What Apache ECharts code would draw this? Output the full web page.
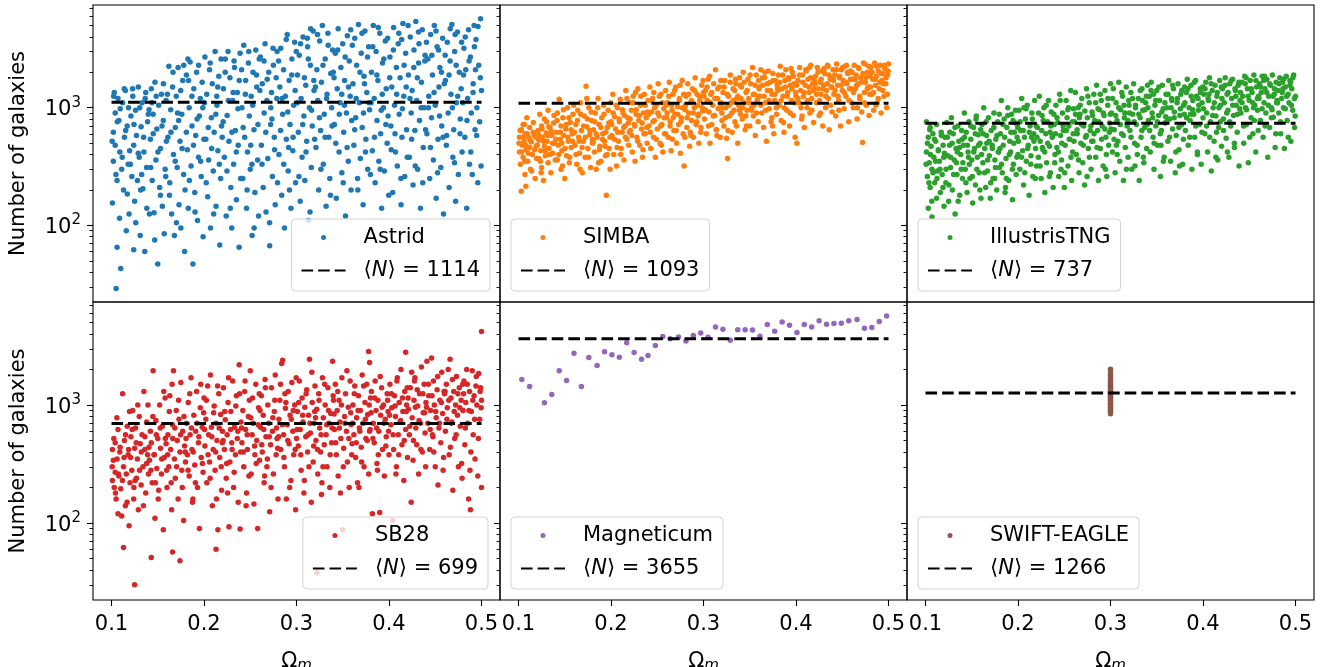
<!DOCTYPE html>
<html><head><meta charset="utf-8">
<script src="https://cdn.jsdelivr.net/npm/echarts@6/dist/echarts.min.js"></script>
<style>html,body{margin:0;padding:0;background:#fff}#c{width:1326px;height:667px}</style>
</head><body><div id="c"></div>
<script>
// ---------- data ----------
const simNames = ['Astrid','SIMBA','IllustrisTNG','SB28','Magneticum','SWIFT-EAGLE'];
const meanN = [1114,1093,737,699,3655,1266];
const xTicks = [0.1,0.2,0.3,0.4,0.5];
const yMajor = [100,1000];
const yMinor = [30,40,50,60,70,80,90,200,300,400,500,600,700,800,900,2000,3000,4000,5000,6000,7000];

const astrid = [[.101,155],[.102,350],[.102,620],[.103,1350],[.104,480],[.104,900],[.105,29],[.106,65],[.106,240],[.107,1200],[.108,780],[.109,420],[.110,43],[.111,300],[.112,1100],[.113,200],[.114,560],[.115,1400],[.116,90],[.117,700],[.118,330],[.119,125],
[.121,850],[.122,260],[.123,1250],[.124,62],[.124,480],[.125,160],[.126,950],[.127,580],[.128,240],[.129,1500],[.130,380],[.131,82],[.132,690],[.133,1100],[.134,205],[.135,420],[.136,60],[.137,1350],[.138,310],[.139,760],
[.141,125],[.142,540],[.143,1450],[.144,240],[.145,880],[.146,128],[.147,1650],[.148,360],[.149,660],[.150,47],[.151,1050],[.152,210],[.153,450],[.154,1300],[.155,145],[.156,780],[.157,85],[.158,300],[.159,1150],
[.161,560],[.162,2250],[.163,230],[.164,960],[.165,125],[.166,1500],[.167,400],[.168,82],[.169,680],[.170,1250],[.171,310],[.172,2200],[.173,150],[.174,520],[.175,95],[.176,880],[.177,1700],[.178,270],[.179,60],
[.181,1900],[.182,440],[.183,140],[.184,1000],[.185,2450],[.186,320],[.187,700],[.188,47],[.189,1450],[.190,190],[.191,580],[.192,2000],[.193,110],[.194,380],[.195,850],[.196,1200],[.197,260],[.198,1650],[.199,80],
[.201,2700],[.202,540],[.203,1300],[.204,175],[.205,360],[.206,2100],[.207,95],[.208,820],[.209,1600],[.210,290],[.211,620],[.212,3000],[.213,145],[.214,1050],[.215,430],[.216,1850],[.217,68],[.218,250],[.219,700],
[.221,1450],[.222,380],[.223,2600],[.224,120],[.225,860],[.226,3000],[.227,520],[.228,1800],[.229,210],[.230,95],[.231,1150],[.232,330],[.233,2200],[.234,640],[.235,165],[.236,1350],[.237,480],[.238,65],[.239,2900],
[.241,1000],[.242,250],[.243,3400],[.244,560],[.245,1700],[.246,140],[.247,420],[.248,2400],[.249,850],[.250,300],[.251,1250],[.252,82],[.253,2000],[.254,650],[.255,190],[.256,3100],[.257,1500],[.258,360],[.259,120],
[.261,2700],[.262,480],[.263,1600],[.264,210],[.265,900],[.266,3500],[.267,130],[.268,1150],[.269,370],[.270,2000],[.271,67],[.272,720],[.273,1350],[.274,260],[.275,2300],[.276,560],[.277,150],[.278,1800],[.279,3000],
[.281,400],[.282,1500],[.283,3200],[.284,180],[.285,880],[.286,2100],[.287,95],[.288,1250],[.289,540],[.290,4200],[.291,290],[.292,1700],[.293,720],[.294,140],[.295,2600],[.296,430],[.297,1050],[.298,3600],[.299,230],
[.301,1900],[.302,620],[.303,2800],[.304,160],[.305,1200],[.306,380],[.307,4000],[.308,850],[.309,240],[.310,1550],[.311,520],[.312,3300],[.313,110],[.314,1000],[.315,2300],[.316,310],[.317,700],[.318,4500],[.319,1400],
[.321,460],[.322,2100],[.323,1150],[.324,200],[.325,3700],[.326,640],[.327,1650],[.328,5000],[.329,330],[.330,880],[.331,2600],[.332,145],[.333,1300],[.334,4300],[.335,560],[.336,250],[.337,1950],[.338,1000],[.339,3100],
[.341,720],[.342,2900],[.343,170],[.344,1450],[.345,4700],[.346,420],[.347,1100],[.348,2200],[.349,280],[.350,3500],[.351,620],[.352,1700],[.353,120],[.354,900],[.355,4100],[.356,350],[.357,2500],[.358,1250],[.359,200],
[.361,1600],[.362,480],[.363,3900],[.364,820],[.365,2300],[.366,250],[.367,5100],[.368,1100],[.369,370],[.370,2900],[.371,680],[.372,150],[.373,1850],[.374,4500],[.375,540],[.376,1350],[.377,300],[.378,3300],[.379,960],
[.381,2000],[.382,430],[.383,5000],[.384,1200],[.385,230],[.386,3000],[.387,780],[.388,1700],[.389,350],[.390,4300],[.391,600],[.392,140],[.393,2400],[.394,1000],[.395,290],[.396,3700],[.397,1450],[.398,500],[.399,850],
[.401,2700],[.402,700],[.403,1500],[.404,190],[.405,4800],[.406,1050],[.407,420],[.408,2200],[.409,320],[.410,3500],[.411,880],[.412,1800],[.413,150],[.414,560],[.415,5200],[.416,1250],[.417,260],[.418,2900],[.419,650],
[.421,1900],[.422,380],[.423,4000],[.424,900],[.425,1400],[.426,220],[.427,3100],[.428,640],[.429,5400],[.430,1150],[.431,300],[.432,2400],[.433,780],[.434,140],[.435,1650],[.436,4600],[.437,460],[.438,1000],[.439,2800],
[.441,600],[.442,2600],[.443,1250],[.444,250],[.445,4200],[.446,820],[.447,1900],[.448,360],[.449,5000],[.450,1050],[.451,170],[.452,3300],[.453,540],[.454,1500],[.455,2200],[.456,310],[.457,700],[.458,3900],[.459,125],
[.461,1700],[.462,480],[.463,3600],[.464,900],[.465,210],[.466,2500],[.467,1300],[.468,5100],[.469,380],[.470,650],[.471,3000],[.472,160],[.473,1100],[.474,4400],[.475,270],[.476,2000],[.477,800],[.478,1450],[.479,420],
[.481,3200],[.482,560],[.483,2100],[.484,140],[.485,1200],[.486,4600],[.487,330],[.488,2700],[.489,900],[.490,270],[.491,1600],[.492,5000],[.493,650],[.494,3800],[.495,1000],[.496,230],[.497,2300],[.498,760],[.499,5700],[.500,1400]];
const astridMore = [[.1007,520],[.1023,1250],[.1048,270],[.1063,760],[.1087,115],[.1094,980],[.1116,380],[.1138,1450],[.1153,640],[.1171,185],[.1196,430],[.1184,1000],
[.1204,330],[.1228,1450],[.1243,720],[.1262,105],[.1289,410],[.1305,1000],[.1326,270],[.1347,560],[.1364,1200],[.1382,140],[.1398,880],[.1315,200],
[.1406,960],[.1424,310],[.1451,600],[.1467,75],[.1483,1250],[.1502,420],[.1529,180],[.1546,700],[.1561,1600],[.1586,260],[.1593,520],[.1437,1100],
[.1604,1300],[.1627,180],[.1643,620],[.1665,2000],[.1689,350],[.1702,105],[.1726,780],[.1748,1400],[.1763,450],[.1781,2300],[.1795,200],[.1714,900],
[.1809,620],[.1826,2600],[.1842,240],[.1869,1250],[.1886,480],[.1903,130],[.1925,800],[.1941,2300],[.1964,350],[.1987,1000],[.1999,540],[.1833,1700],
[.2005,1100],[.2024,230],[.2046,680],[.2067,2400],[.2083,450],[.2105,125],[.2128,880],[.2149,1500],[.2166,330],[.2184,2600],[.2197,560],[.2138,1250],
[.2207,760],[.2229,2000],[.2248,290],[.2263,1150],[.2284,140],[.2302,620],[.2325,2500],[.2349,420],[.2367,980],[.2381,1700],[.2396,250],[.2315,1350],
[.2406,2100],[.2423,680],[.2447,1300],[.2466,200],[.2484,3000],[.2505,480],[.2527,1050],[.2542,95],[.2568,1900],[.2583,720],[.2597,2600],[.2518,330],
[.2604,1400],[.2627,330],[.2649,2500],[.2668,620],[.2683,1750],[.2709,105],[.2722,1000],[.2746,3200],[.2763,440],[.2787,1200],[.2795,230],[.2734,800],
[.2806,2500],[.2828,640],[.2844,1200],[.2862,330],[.2889,3800],[.2906,920],[.2924,200],[.2948,1900],[.2963,560],[.2985,1400],[.2997,3000],[.2915,460],
[.3008,1100],[.3026,260],[.3044,3500],[.3067,720],[.3085,1800],[.3103,420],[.3128,2600],[.3146,130],[.3163,950],[.3187,1700],[.3196,540],[.3117,3900],
[.3205,1500],[.3227,4200],[.3248,820],[.3264,300],[.3286,2300],[.3309,560],[.3325,1200],[.3343,3400],[.3367,180],[.3384,700],[.3398,2000],[.3152,4700],
[.3406,1800],[.3425,500],[.3446,3100],[.3463,880],[.3489,1300],[.3505,230],[.3526,2700],[.3547,460],[.3562,1500],[.3586,4600],[.3597,780],[.3518,1050],
[.3604,3400],[.3629,650],[.3645,1200],[.3663,200],[.3686,2000],[.3708,4300],[.3724,900],[.3746,420],[.3768,2700],[.3783,1100],[.3799,270],[.3735,1600],
[.3806,1100],[.3825,3300],[.3843,560],[.3869,1900],[.3884,4800],[.3905,300],[.3927,1300],[.3944,2600],[.3966,720],[.3985,3900],[.3997,180],[.3916,950],
[.4008,1800],[.4024,440],[.4047,3100],[.4065,600],[.4083,1300],[.4106,4300],[.4129,250],[.4145,980],[.4163,2300],[.4186,1500],[.4198,380],[.4137,3800],
[.4206,5000],[.4227,1200],[.4245,540],[.4268,2200],[.4284,320],[.4306,1800],[.4324,3500],[.4347,1000],[.4365,230],[.4387,2500],[.4396,650],[.4318,4400],
[.4405,3600],[.4426,1000],[.4448,460],[.4463,2800],[.4487,1350],[.4508,4500],[.4525,280],[.4546,850],[.4567,2000],[.4584,560],[.4598,1600],[.4536,3100],
[.4607,2800],[.4624,580],[.4649,1900],[.4662,4700],[.4685,1000],[.4708,340],[.4726,2300],[.4743,1250],[.4768,600],[.4785,3600],[.4797,1100],[.4715,4200],
[.4806,1900],[.4824,4000],[.4843,780],[.4866,2500],[.4884,420],[.4909,1350],[.4923,3300],[.4948,580],[.4962,4900],[.4987,1800],[.4995,320],[.4935,2100]];

const simba = [[.101,560],[.101,420],[.102,330],[.103,195],[.103,650],[.104,480],[.105,380],[.105,720],[.106,520],[.107,270],[.107,600],[.108,215],[.108,440],[.109,820],[.110,350],[.111,560],[.112,460],[.112,680],[.113,300],[.114,510],[.115,400],[.116,750],[.117,580],[.118,250],[.119,470],
[.121,640],[.122,370],[.122,530],[.123,880],[.124,430],[.125,310],[.125,700],[.126,560],[.127,240],[.128,470],[.128,800],[.129,390],[.130,610],[.131,520],[.132,340],[.132,950],[.133,450],[.134,680],[.135,280],[.136,580],[.137,410],[.138,740],[.139,500],
[.141,620],[.142,360],[.142,900],[.143,480],[.144,1180],[.145,540],[.146,300],[.146,700],[.147,430],[.148,820],[.149,580],[.150,250],[.151,660],[.152,390],[.153,1000],[.154,520],[.155,340],[.156,750],[.157,460],[.158,600],[.159,880],
[.161,480],[.162,720],[.163,330],[.164,950],[.165,560],[.166,410],[.167,1100],[.168,640],[.169,280],[.170,520],[.171,850],[.172,380],[.173,1520],[.174,690],[.175,450],[.176,1000],[.177,590],[.178,310],[.179,780],[.180,500],
[.181,650],[.182,420],[.183,900],[.184,300],[.185,560],[.186,1200],[.187,720],[.188,470],[.189,350],[.190,820],[.191,600],[.192,1050],[.193,520],[.194,390],[.195,180],[.196,680],[.197,950],[.198,450],[.199,300],[.200,760],
[.201,580],[.202,1300],[.203,400],[.204,840],[.205,660],[.206,320],[.207,1000],[.208,520],[.209,760],[.210,1180],[.211,450],[.212,620],[.213,900],[.214,360],[.215,700],[.216,1400],[.217,540],[.218,820],[.219,480],[.220,1100],
[.221,640],[.222,950],[.223,420],[.224,1250],[.225,720],[.226,350],[.227,880],[.228,560],[.229,1450],[.230,780],[.231,480],[.232,1050],[.233,660],[.234,380],[.235,900],[.236,1300],[.237,600],[.238,820],[.239,500],[.240,1150],
[.241,700],[.242,1500],[.243,450],[.244,920],[.245,1200],[.246,560],[.247,780],[.248,380],[.249,1050],[.250,660],[.251,1600],[.252,850],[.253,500],[.254,1300],[.255,720],[.256,420],[.257,980],[.258,600],[.259,1400],[.260,820],
[.261,1100],[.262,560],[.263,1650],[.264,760],[.265,430],[.266,950],[.267,1300],[.268,640],[.269,880],[.270,1500],[.271,500],[.272,1020],[.273,720],[.274,1200],[.275,410],[.276,820],[.277,1700],[.278,600],[.279,320],[.280,960],
[.281,1250],[.282,680],[.283,1600],[.284,900],[.285,470],[.286,1100],[.287,780],[.288,1450],[.289,560],[.290,1000],[.291,1800],[.292,720],[.293,1300],[.294,850],[.295,500],[.296,1150],[.297,620],[.298,1550],[.299,940],[.300,1350],
[.301,800],[.302,1400],[.303,600],[.304,1150],[.305,1750],[.306,920],[.307,500],[.308,1300],[.309,720],[.310,1050],[.311,1600],[.312,860],[.313,2100],[.314,650],[.315,1200],[.316,980],[.317,1500],[.318,560],[.319,1100],[.320,780],
[.321,1350],[.322,700],[.323,1700],[.324,1000],[.325,550],[.326,370],[.327,1250],[.328,850],[.329,1900],[.330,1100],[.331,620],[.332,1450],[.333,950],[.334,760],[.335,1600],[.336,1200],[.337,500],[.338,1050],[.339,1800],[.340,880],
[.341,1500],[.342,800],[.343,2000],[.344,1100],[.345,650],[.346,1350],[.347,950],[.348,1750],[.349,1200],[.350,700],[.351,1600],[.352,1000],[.353,2200],[.354,850],[.355,1300],[.356,580],[.357,1900],[.358,1150],[.359,760],[.360,1450],
[.361,1250],[.362,2100],[.363,900],[.364,1550],[.365,680],[.366,1800],[.367,1100],[.368,520],[.369,1400],[.370,2050],[.371,980],[.372,1650],[.373,760],[.374,1300],[.375,1950],[.376,600],[.377,1150],[.378,1700],[.379,880],[.380,1450],
[.381,1900],[.382,1050],[.383,2250],[.384,780],[.385,1450],[.386,1250],[.387,620],[.388,1700],[.389,2100],[.390,950],[.391,1350],[.392,1800],[.393,700],[.394,1550],[.395,1150],[.396,2000],[.397,860],[.398,1600],[.399,560],[.400,1250],
[.401,500],[.402,1700],[.403,1100],[.404,2200],[.405,1400],[.406,800],[.407,1900],[.408,1250],[.409,680],[.410,1550],[.411,2050],[.412,1000],[.413,1750],[.414,1350],[.415,900],[.416,2300],[.417,1200],[.418,1600],[.419,750],[.420,1450],
[.421,1850],[.422,1100],[.423,2200],[.424,1450],[.425,860],[.426,1650],[.427,1300],[.428,2050],[.429,700],[.430,1550],[.431,1950],[.432,1000],[.433,1400],[.434,2300],[.435,1200],[.436,650],[.437,1750],[.438,1500],[.439,920],[.440,2100],
[.441,1300],[.442,1900],[.443,850],[.444,2350],[.445,1550],[.446,1150],[.447,1800],[.448,700],[.449,2100],[.450,1400],[.451,1700],[.452,980],[.453,2250],[.454,1250],[.455,1600],[.456,1950],[.457,760],[.458,1450],[.459,2050],[.460,1100],
[.461,1750],[.462,1000],[.463,2300],[.464,1450],[.465,1900],[.466,800],[.467,1600],[.468,2150],[.469,1200],[.470,1800],[.471,920],[.472,505],[.473,2400],[.474,1350],[.475,1650],[.476,1050],[.477,2000],[.478,1500],[.479,860],[.480,1850],
[.481,2200],[.482,1300],[.483,1750],[.484,950],[.485,2400],[.486,1550],[.487,1850],[.488,1100],[.489,2050],[.490,1450],[.491,2300],[.492,900],[.493,1700],[.494,1950],[.495,1250],[.496,2150],[.497,1600],[.498,1000],[.499,1900],[.500,2350]];
const simbaMore = [[.1006,500],[.1018,640],[.1034,420],[.1052,560],[.1068,350],[.1079,480],[.1093,600],[.1106,410],[.1124,530],[.1142,290],[.1158,620],[.1173,440],[.1188,560],[.1196,370],[.1064,720],
[.1203,480],[.1219,590],[.1236,350],[.1254,660],[.1271,520],[.1287,430],[.1303,760],[.1318,580],[.1336,400],[.1353,630],[.1369,500],[.1384,860],[.1397,360],[.1245,280],[.1328,690],
[.1404,540],[.1417,780],[.1435,400],[.1452,620],[.1468,500],[.1486,960],[.1503,450],[.1517,720],[.1535,560],[.1553,380],[.1568,650],[.1584,520],[.1597,1050],[.1476,320],[.1544,820],
[.1605,620],[.1622,400],[.1638,780],[.1655,520],[.1672,880],[.1688,460],[.1704,700],[.1723,560],[.1738,1200],[.1756,380],[.1772,640],[.1787,920],[.1798,540],[.1665,300],[.1745,800],
[.1806,520],[.1823,760],[.1839,600],[.1857,1000],[.1874,440],[.1891,680],[.1908,540],[.1925,880],[.1943,620],[.1958,400],[.1976,740],[.1989,560],[.1997,1100],[.1866,340],[.1935,470],
[.2007,720],[.2023,900],[.2038,540],[.2056,1050],[.2073,620],[.2088,800],[.2105,400],[.2123,960],[.2138,680],[.2156,560],[.2172,1200],[.2187,740],[.2198,620],[.2066,460],[.2145,860],
[.2206,800],[.2224,580],[.2238,1100],[.2257,700],[.2273,960],[.2289,520],[.2306,860],[.2322,1250],[.2337,740],[.2356,600],[.2371,1050],[.2388,680],[.2396,920],[.2265,1350],[.2346,440],
[.2405,880],[.2423,620],[.2437,1150],[.2454,760],[.2472,1000],[.2489,540],[.2506,900],[.2523,1250],[.2538,700],[.2556,1100],[.2574,820],[.2588,600],[.2597,1050],[.2463,1350],[.2545,480],
[.2607,900],[.2624,1250],[.2638,700],[.2656,1050],[.2673,820],[.2687,1400],[.2705,640],[.2722,880],[.2739,1150],[.2757,760],[.2772,1000],[.2786,1300],[.2798,560],[.2665,540],[.2746,1550],
[.2806,1050],[.2823,820],[.2838,1300],[.2856,620],[.2872,1150],[.2889,900],[.2905,1400],[.2924,760],[.2938,1050],[.2955,1250],[.2973,680],[.2987,1000],[.2996,1700],[.2864,580],[.2946,880],
[.3006,1250],[.3022,950],[.3039,1500],[.3055,700],[.3072,1100],[.3089,1350],[.3105,850],[.3123,1200],[.3138,650],[.3154,1450],[.3173,1000],[.3187,1700],[.3198,900],[.3066,1850],[.3145,580],
[.3205,1000],[.3222,1500],[.3238,820],[.3255,1300],[.3274,1050],[.3289,1650],[.3306,900],[.3323,1150],[.3337,1400],[.3356,700],[.3371,1250],[.3388,950],[.3397,1550],[.3265,640],[.3346,1750],
[.3406,1200],[.3423,1000],[.3439,1650],[.3457,850],[.3472,1400],[.3488,1100],[.3504,1900],[.3522,950],[.3539,1300],[.3557,1550],[.3572,900],[.3588,1250],[.3596,1700],[.3465,700],[.3546,1050],
[.3605,1500],[.3621,1050],[.3638,1800],[.3655,1250],[.3672,950],[.3689,1600],[.3706,1150],[.3723,1400],[.3739,820],[.3754,1700],[.3771,1300],[.3787,1000],[.3797,1550],[.3664,2000],[.3746,700],
[.3806,1400],[.3823,1650],[.3839,1150],[.3856,1900],[.3873,1000],[.3888,1500],[.3905,1250],[.3922,1750],[.3938,900],[.3955,1450],[.3972,1850],[.3987,1100],[.3996,1350],[.3865,750],[.3946,2150],
[.4005,1550],[.4022,1200],[.4038,1900],[.4055,1000],[.4073,1650],[.4088,1350],[.4106,2100],[.4123,1150],[.4139,1500],[.4156,1800],[.4172,950],[.4188,1400],[.4197,1700],[.4066,850],[.4145,2200],
[.4206,1600],[.4223,1300],[.4238,2000],[.4255,1150],[.4272,1750],[.4289,1450],[.4305,2150],[.4322,1250],[.4338,1600],[.4356,1900],[.4373,1050],[.4387,1500],[.4398,1800],[.4265,900],[.4346,2250],
[.4405,1700],[.4422,1400],[.4439,2100],[.4455,1250],[.4471,1850],[.4489,1550],[.4505,2200],[.4523,1350],[.4538,1650],[.4555,2000],[.4572,1150],[.4588,1750],[.4597,1450],[.4464,950],[.4546,2300],
[.4606,2000],[.4622,1350],[.4638,1750],[.4656,1550],[.4673,2200],[.4689,1250],[.4706,1650],[.4723,1950],[.4739,1100],[.4755,1800],[.4772,1450],[.4788,2250],[.4797,1300],[.4665,1000],[.4746,2350],
[.4805,1500],[.4823,2000],[.4838,1350],[.4856,1750],[.4872,2250],[.4889,1200],[.4906,1650],[.4922,1950],[.4939,1400],[.4956,2300],[.4973,1800],[.4988,1300],[.4996,2050],[.4865,1050],[.4946,1600]];

const tng = [[.101,760],[.101,420],[.102,260],[.103,140],[.103,560],[.104,340],[.105,680],[.105,210],[.106,470],[.107,118],[.107,300],[.108,600],[.109,380],[.110,230],[.111,520],[.112,170],[.112,720],[.113,290],[.114,440],[.115,350],[.116,190],[.117,620],[.118,270],[.119,480],[.120,145],
[.121,560],[.122,230],[.123,750],[.124,390],[.125,160],[.126,480],[.127,310],[.128,820],[.129,200],[.130,600],[.131,360],[.132,125],[.133,450],[.134,270],[.135,700],[.136,520],[.137,180],[.138,400],[.139,640],[.140,250],
[.141,480],[.142,900],[.143,300],[.144,620],[.145,190],[.146,420],[.147,760],[.148,250],[.149,540],[.150,360],[.151,155],[.152,680],[.153,450],[.154,220],[.155,850],[.156,380],[.157,590],[.158,280],[.159,500],[.160,170],
[.161,720],[.162,340],[.163,1000],[.164,450],[.165,210],[.166,580],[.167,290],[.168,820],[.169,390],[.170,170],[.171,640],[.172,480],[.173,250],[.174,900],[.175,360],[.176,540],[.177,200],[.178,760],[.179,420],[.180,310],
[.181,600],[.182,1150],[.183,280],[.184,480],[.185,800],[.186,190],[.187,370],[.188,680],[.189,1000],[.190,240],[.191,520],[.192,420],[.193,880],[.194,165],[.195,330],[.196,620],[.197,740],[.198,270],[.199,560],[.200,400],
[.201,950],[.202,300],[.203,640],[.204,1200],[.205,430],[.206,220],[.207,560],[.208,800],[.209,350],[.210,1050],[.211,480],[.212,180],[.213,700],[.214,390],[.215,900],[.216,260],[.217,600],[.218,1150],[.219,450],[.220,320],
[.221,680],[.222,380],[.223,1250],[.224,520],[.225,250],[.226,860],[.227,440],[.228,1000],[.229,190],[.230,600],[.231,340],[.232,760],[.233,1150],[.234,470],[.235,280],[.236,920],[.237,560],[.238,210],[.239,720],[.240,400],
[.241,1050],[.242,460],[.243,750],[.244,260],[.245,1300],[.246,580],[.247,360],[.248,900],[.249,640],[.250,210],[.251,480],[.252,1150],[.253,820],[.254,320],[.255,700],[.256,540],[.257,1400],[.258,240],[.259,420],[.260,980],
[.261,760],[.262,1350],[.263,400],[.264,600],[.265,1000],[.266,280],[.267,880],[.268,500],[.269,1200],[.270,340],[.271,700],[.272,220],[.273,560],[.274,1450],[.275,820],[.276,450],[.277,1100],[.278,640],[.279,300],[.280,920],
[.281,520],[.282,1300],[.283,780],[.284,380],[.285,1550],[.286,640],[.287,240],[.288,960],[.289,450],[.290,1150],[.291,700],[.292,320],[.293,860],[.294,1400],[.295,560],[.296,260],[.297,1050],[.298,480],[.299,740],[.300,1600],
[.301,900],[.302,420],[.303,1450],[.304,650],[.305,280],[.306,1100],[.307,780],[.308,520],[.309,1650],[.310,350],[.311,960],[.312,600],[.313,1250],[.314,240],[.315,820],[.316,460],[.317,1500],[.318,700],[.319,380],[.320,1050],
[.321,640],[.322,1350],[.323,300],[.324,880],[.325,1600],[.326,500],[.327,1000],[.328,720],[.329,400],[.330,1200],[.331,240],[.332,820],[.333,560],[.334,1450],[.335,950],[.336,340],[.337,680],[.338,1100],[.339,450],[.340,1550],
[.341,780],[.342,1250],[.343,420],[.344,1650],[.345,900],[.346,560],[.347,300],[.348,1050],[.349,700],[.350,1400],[.351,480],[.352,860],[.353,1150],[.354,260],[.355,640],[.356,1550],[.357,980],[.358,380],[.359,740],[.360,1300],
[.361,1000],[.362,520],[.363,1700],[.364,800],[.365,350],[.366,1200],[.367,660],[.368,1450],[.369,920],[.370,280],[.371,580],[.372,1100],[.373,1600],[.374,440],[.375,860],[.376,1300],[.377,720],[.378,330],[.379,1050],[.380,1500],
[.381,640],[.382,1350],[.383,1750],[.384,480],[.385,1000],[.386,780],[.387,1550],[.388,300],[.389,1150],[.390,880],[.391,560],[.392,1700],[.393,1250],[.394,400],[.395,950],[.396,720],[.397,1450],[.398,330],[.399,1100],[.400,820],
[.401,1300],[.402,600],[.403,1650],[.404,900],[.405,420],[.406,1150],[.407,1800],[.408,760],[.409,290],[.410,1400],[.411,1000],[.412,520],[.413,1550],[.414,850],[.415,1250],[.416,360],[.417,680],[.418,1700],[.419,1050],[.420,470],
[.421,1450],[.422,800],[.423,1100],[.424,1800],[.425,550],[.426,1300],[.427,950],[.428,380],[.429,1600],[.430,700],[.431,1200],[.432,1750],[.433,860],[.434,460],[.435,1400],[.436,1050],[.437,620],[.438,1550],[.439,320],[.440,1150],
[.441,900],[.442,1650],[.443,1250],[.444,500],[.445,1850],[.446,1000],[.447,720],[.448,1450],[.449,340],[.450,1150],[.451,1700],[.452,820],[.453,1350],[.454,600],[.455,1900],[.456,1050],[.457,420],[.458,1500],[.459,950],[.460,1250],
[.461,1600],[.462,780],[.463,1350],[.464,1850],[.465,560],[.466,1100],[.467,1450],[.468,900],[.469,1750],[.470,380],[.471,1250],[.472,680],[.473,1550],[.474,1000],[.475,1900],[.476,830],[.477,1300],[.478,460],[.479,1650],[.480,1150],
[.481,1400],[.482,900],[.483,1800],[.484,600],[.485,1200],[.486,1650],[.487,1000],[.488,450],[.489,1500],[.490,1850],[.491,780],[.492,1300],[.493,1100],[.494,1700],[.495,520],[.496,1450],[.497,950],[.498,1900],[.499,680],[.500,1250]];
const tngMore = [[.1006,330],[.1021,500],[.1037,230],[.1053,400],[.1068,160],[.1082,280],[.1097,540],[.1108,350],[.1124,250],[.1138,430],[.1156,300],[.1171,580],[.1189,210],[.1197,380],[.1046,650],
[.1205,410],[.1222,300],[.1237,560],[.1253,220],[.1271,380],[.1288,500],[.1304,270],[.1319,680],[.1335,340],[.1353,160],[.1368,460],[.1386,300],[.1398,540],[.1263,620],[.1344,420],
[.1404,340],[.1421,560],[.1437,230],[.1454,480],[.1473,330],[.1489,700],[.1506,260],[.1522,420],[.1538,600],[.1555,300],[.1573,480],[.1588,200],[.1597,650],[.1465,380],[.1546,800],
[.1606,400],[.1623,600],[.1638,280],[.1655,760],[.1672,360],[.1688,520],[.1705,230],[.1722,450],[.1739,680],[.1756,310],[.1773,580],[.1787,420],[.1798,880],[.1663,500],[.1747,250],
[.1805,450],[.1822,330],[.1838,720],[.1856,560],[.1874,250],[.1889,860],[.1906,400],[.1923,620],[.1939,300],[.1955,500],[.1973,950],[.1988,380],[.1997,680],[.1865,210],[.1946,780],
[.2005,520],[.2023,760],[.2039,380],[.2056,640],[.2073,280],[.2087,980],[.2105,450],[.2122,620],[.2138,330],[.2155,800],[.2172,520],[.2188,250],[.2197,700],[.2064,1000],[.2146,560],
[.2205,560],[.2223,900],[.2239,320],[.2256,640],[.2273,780],[.2289,420],[.2305,1050],[.2321,500],[.2339,260],[.2355,700],[.2372,580],[.2388,880],[.2397,340],[.2264,460],[.2346,620],
[.2405,600],[.2422,820],[.2438,420],[.2456,1150],[.2473,500],[.2487,700],[.2505,280],[.2522,640],[.2538,960],[.2554,540],[.2572,380],[.2588,760],[.2597,600],[.2465,300],[.2546,1000],
[.2605,520],[.2622,880],[.2639,650],[.2655,360],[.2672,1050],[.2688,720],[.2706,480],[.2723,940],[.2739,580],[.2756,1250],[.2772,380],[.2788,700],[.2797,520],[.2663,820],[.2747,260],
[.2806,860],[.2822,600],[.2839,1100],[.2855,460],[.2873,760],[.2889,1300],[.2904,540],[.2922,900],[.2939,660],[.2955,400],[.2972,1200],[.2988,620],[.2997,880],[.2865,980],[.2946,300],
[.3005,660],[.3022,1200],[.3038,540],[.3056,860],[.3072,400],[.3089,1000],[.3106,720],[.3122,1350],[.3139,580],[.3155,900],[.3172,300],[.3188,780],[.3197,1150],[.3064,480],[.3146,1050],
[.3205,900],[.3222,560],[.3238,1200],[.3256,760],[.3271,1050],[.3288,480],[.3306,880],[.3322,1400],[.3339,640],[.3355,380],[.3372,960],[.3387,1250],[.3397,720],[.3264,320],[.3345,1150],
[.3405,1000],[.3423,640],[.3438,1400],[.3456,820],[.3472,500],[.3488,1150],[.3505,760],[.3522,1500],[.3538,600],[.3555,920],[.3572,350],[.3588,1100],[.3597,840],[.3465,1300],[.3546,480],
[.3605,760],[.3622,1300],[.3639,560],[.3655,1000],[.3672,1550],[.3688,820],[.3706,420],[.3723,1200],[.3739,680],[.3755,980],[.3771,1400],[.3788,540],[.3797,880],[.3664,1150],[.3746,320],
[.3805,1100],[.3822,820],[.3838,1450],[.3856,560],[.3872,1250],[.3889,960],[.3906,1650],[.3922,700],[.3939,420],[.3955,1050],[.3972,1350],[.3988,620],[.3997,1500],[.3865,880],[.3946,1200],
[.4006,980],[.4022,1450],[.4039,700],[.4055,1200],[.4073,560],[.4088,1600],[.4105,860],[.4122,1100],[.4139,380],[.4155,1350],[.4172,1000],[.4188,760],[.4197,1500],[.4064,1300],[.4146,620],
[.4205,1200],[.4222,640],[.4238,1550],[.4256,900],[.4272,1350],[.4289,760],[.4305,1700],[.4321,1050],[.4339,500],[.4355,1250],[.4372,880],[.4388,1650],[.4397,980],[.4264,420],[.4346,1450],
[.4406,1350],[.4422,1100],[.4439,700],[.4456,1600],[.4471,960],[.4488,1250],[.4505,560],[.4522,1450],[.4538,1100],[.4555,780],[.4572,1700],[.4588,1200],[.4597,640],[.4465,1800],[.4546,1000],
[.4605,1200],[.4622,1500],[.4639,980],[.4656,1700],[.4672,700],[.4689,1350],[.4706,1050],[.4721,1600],[.4739,820],[.4756,1250],[.4772,1450],[.4787,600],[.4797,1100],[.4664,1850],[.4746,960],
[.4806,1100],[.4822,1600],[.4838,760],[.4856,1350],[.4873,1750],[.4889,980],[.4905,1250],[.4922,560],[.4939,1550],[.4955,1050],[.4972,1800],[.4988,1200],[.4996,850],[.4864,1450],[.4947,1650]];

const sb28 = [[.101,420],[.101,230],[.102,340],[.103,200],[.104,480],[.104,270],[.105,160],[.106,350],[.107,120],[.107,620],[.108,250],[.109,400],[.110,195],[.111,115],[.112,1250],[.113,62],[.113,300],[.114,500],[.115,140],[.116,260],[.117,660],[.118,380],[.119,95],[.120,220],
[.121,540],[.122,280],[.123,900],[.124,160],[.125,30],[.125,430],[.126,640],[.127,240],[.128,350],[.129,130],[.130,800],[.131,470],[.132,210],[.133,560],[.134,300],[.135,1300],[.136,420],[.137,180],[.138,720],[.139,380],[.140,260],
[.141,340],[.142,600],[.143,51],[.143,480],[.144,220],[.145,1950],[.146,380],[.147,110],[.148,740],[.149,290],[.150,520],[.151,190],[.152,1000],[.153,430],[.154,260],[.155,660],[.156,88],[.157,360],[.158,1150],[.159,470],[.160,200],
[.161,560],[.162,300],[.163,1200],[.164,420],[.165,130],[.166,57],[.166,680],[.167,1950],[.168,350],[.169,240],[.170,900],[.171,500],[.172,160],[.173,760],[.174,48],[.174,400],[.175,1550],[.176,280],[.177,600],[.178,105],[.179,450],[.180,330],
[.181,700],[.182,380],[.183,1050],[.184,250],[.185,560],[.186,1700],[.187,420],[.188,160],[.189,820],[.190,310],[.191,600],[.192,1300],[.193,200],[.194,480],[.195,90],[.196,950],[.197,360],[.198,650],[.199,270],[.200,1150],
[.201,450],[.202,760],[.203,220],[.204,1450],[.205,560],[.206,330],[.207,1800],[.208,650],[.209,140],[.210,420],[.211,980],[.212,280],[.213,60],[.213,700],[.214,500],[.215,88],[.216,1250],[.217,360],[.218,830],[.219,190],[.220,600],
[.221,1400],[.222,420],[.223,750],[.224,240],[.225,560],[.226,1050],[.227,93],[.228,330],[.229,880],[.230,480],[.231,1600],[.232,200],[.233,650],[.234,380],[.235,1200],[.236,520],[.237,150],[.238,2200],[.239,89],[.240,720],
[.241,480],[.242,900],[.243,300],[.244,1300],[.245,620],[.246,180],[.247,420],[.248,800],[.249,1100],[.250,1950],[.251,260],[.252,560],[.253,700],[.254,145],[.255,380],[.256,1500],[.257,500],[.258,90],[.259,950],[.260,340],
[.261,650],[.262,1200],[.263,400],[.264,820],[.265,220],[.266,1650],[.267,540],[.268,300],[.269,1000],[.270,700],[.271,125],[.272,460],[.273,1400],[.274,600],[.275,260],[.276,880],[.277,1800],[.278,380],[.279,520],[.280,160],
[.281,760],[.282,1100],[.283,420],[.284,2250],[.285,2400],[.286,560],[.287,300],[.288,940],[.289,160],[.290,680],[.291,1300],[.292,470],[.293,820],[.294,230],[.295,1550],[.296,600],[.297,380],[.298,1000],[.299,130],[.300,520],
[.301,880],[.302,450],[.303,1600],[.304,620],[.305,280],[.306,1150],[.307,720],[.308,180],[.309,960],[.310,540],[.311,1350],[.312,400],[.313,820],[.314,2450],[.315,580],[.316,150],[.317,1050],[.318,330],[.319,700],[.320,1450],
[.321,500],[.322,38],[.322,920],[.323,260],[.324,1250],[.325,640],[.326,400],[.327,175],[.328,1700],[.329,780],[.330,460],[.331,1000],[.332,560],[.333,300],[.334,1400],[.335,700],[.336,200],[.337,850],[.338,480],[.339,2350],[.340,1100],
[.341,620],[.342,1500],[.343,380],[.344,900],[.345,250],[.346,1100],[.347,720],[.348,520],[.349,1700],[.350,88],[.351,430],[.352,800],[.353,1250],[.354,600],[.355,330],[.356,960],[.357,200],[.358,1600],[.359,680],[.360,470],
[.361,1000],[.362,560],[.363,1450],[.364,360],[.365,780],[.366,220],[.367,1200],[.368,640],[.369,900],[.370,440],[.371,1800],[.372,700],[.373,300],[.374,1050],[.375,520],[.376,1500],[.377,830],[.378,260],[.379,600],[.380,1150],
[.378,2850],[.379,2300],[.381,1300],[.382,120],[.383,700],[.384,480],[.385,1600],[.386,900],[.387,320],[.388,1100],[.389,600],[.390,123],[.391,820],[.392,1400],[.393,420],[.394,1000],[.395,250],[.396,760],[.397,540],[.398,1250],[.399,880],[.400,380],
[.401,1500],[.402,680],[.403,950],[.404,105],[.405,420],[.406,1200],[.407,800],[.408,300],[.409,1700],[.410,560],[.411,1050],[.412,720],[.413,2000],[.414,460],[.415,880],[.416,230],[.417,1300],[.418,620],[.419,1000],[.420,360],
[.418,2800],[.421,920],[.422,560],[.423,1400],[.424,150],[.425,780],[.426,340],[.427,1100],[.428,1700],[.429,640],[.430,460],[.431,980],[.432,260],[.433,1250],[.434,700],[.435,2100],[.436,400],[.437,860],[.438,1500],[.439,580],[.440,1050],
[.441,2350],[.442,700],[.443,1200],[.444,420],[.445,900],[.446,2500],[.447,560],[.448,1600],[.449,1000],[.450,300],[.451,780],[.452,1350],[.453,210],[.454,640],[.455,1100],[.456,480],[.457,1900],[.458,850],[.459,360],[.460,1250],
[.461,600],[.462,1500],[.463,950],[.464,2000],[.465,380],[.466,2450],[.467,1150],[.468,720],[.469,190],[.470,1300],[.471,520],[.472,1000],[.473,1750],[.474,820],[.475,300],[.476,1400],[.477,660],[.478,1100],[.479,240],[.480,900],
[.481,1600],[.482,460],[.483,1050],[.484,2000],[.485,700],[.486,160],[.487,1300],[.488,130],[.489,880],[.490,1950],[.491,560],[.492,1200],[.493,350],[.494,1450],[.495,1000],[.496,250],[.497,1850],[.498,760],[.499,1400],[.500,4200],[.500,200],[.500,1100]];
const sb28More = [[.1007,300],[.1025,520],[.1043,180],[.1058,780],[.1074,260],[.1093,440],[.1118,230],[.1136,360],[.1152,560],[.1168,150],[.1185,420],[.1195,880],
[.1206,360],[.1224,620],[.1242,200],[.1267,480],[.1284,1000],[.1303,280],[.1322,400],[.1345,140],[.1361,540],[.1379,320],[.1394,1000],[.1255,230],
[.1405,440],[.1426,280],[.1447,800],[.1463,380],[.1484,560],[.1505,160],[.1527,640],[.1543,350],[.1565,1300],[.1582,520],[.1596,280],[.1475,220],
[.1607,380],[.1625,880],[.1645,220],[.1662,520],[.1685,640],[.1704,300],[.1725,1100],[.1747,560],[.1765,200],[.1784,800],[.1797,400],[.1655,1500],
[.1806,520],[.1828,280],[.1846,1250],[.1864,640],[.1883,400],[.1907,220],[.1924,700],[.1945,540],[.1965,1500],[.1983,320],[.1996,860],[.1875,150],
[.2006,620],[.2025,1100],[.2044,380],[.2066,240],[.2085,540],[.2104,860],[.2126,400],[.2147,1450],[.2165,640],[.2186,300],[.2198,480],[.2135,160],
[.2206,500],[.2224,880],[.2245,320],[.2265,1700],[.2287,620],[.2304,420],[.2326,270],[.2344,980],[.2366,600],[.2385,1250],[.2396,400],[.2255,180],
[.2405,640],[.2426,400],[.2444,1600],[.2467,560],[.2486,250],[.2505,780],[.2525,1150],[.2547,450],[.2564,320],[.2586,680],[.2597,1250],[.2455,140],
[.2606,900],[.2624,460],[.2646,620],[.2664,1400],[.2685,350],[.2706,540],[.2725,200],[.2744,780],[.2765,1100],[.2784,640],[.2796,430],[.2655,250],
[.2806,540],[.2827,1500],[.2846,680],[.2864,360],[.2885,1050],[.2906,500],[.2926,200],[.2944,760],[.2965,900],[.2986,420],[.2996,1700],[.2875,1250],
[.3006,620],[.3024,1050],[.3046,380],[.3066,820],[.3085,230],[.3104,1250],[.3125,560],[.3145,700],[.3166,1900],[.3186,450],[.3197,880],[.3135,300],
[.3206,780],[.3227,420],[.3244,1100],[.3265,560],[.3286,300],[.3305,1500],[.3326,680],[.3346,900],[.3364,380],[.3385,640],[.3396,1200],[.3275,220],
[.3406,840],[.3424,480],[.3446,1300],[.3464,640],[.3485,1000],[.3506,300],[.3524,700],[.3545,1950],[.3566,520],[.3586,860],[.3597,380],[.3475,180],
[.3606,700],[.3625,1250],[.3646,480],[.3666,900],[.3685,600],[.3704,330],[.3726,1450],[.3745,760],[.3764,500],[.3786,1000],[.3796,620],[.3675,200],
[.3806,860],[.3826,520],[.3845,1150],[.3866,640],[.3884,380],[.3905,1750],[.3925,960],[.3945,700],[.3966,450],[.3985,1100],[.3996,600],[.3875,280],
[.4006,820],[.4026,1250],[.4044,560],[.4065,980],[.4085,1600],[.4105,380],[.4126,740],[.4146,1150],[.4165,500],[.4186,880],[.4197,1400],[.4075,260],
[.4206,1150],[.4224,660],[.4245,1900],[.4264,500],[.4286,960],[.4305,1350],[.4325,740],[.4345,420],[.4366,1250],[.4385,860],[.4396,300],[.4275,1600],
[.4406,960],[.4425,1500],[.4445,620],[.4465,1200],[.4484,400],[.4505,880],[.4526,1750],[.4545,700],[.4566,1050],[.4585,280],[.4596,1300],[.4475,540],
[.4606,1300],[.4626,760],[.4646,1100],[.4664,440],[.4685,1650],[.4705,880],[.4726,560],[.4745,1250],[.4766,950],[.4785,320],[.4797,1500],[.4675,700],
[.4806,1250],[.4825,640],[.4846,1500],[.4864,900],[.4885,400],[.4906,1100],[.4926,760],[.4944,1750],[.4966,520],[.4985,1300],[.4996,950],[.4875,280]];

const magneticum = [[.1036,1650],[.112,1439],[.128,1047],[.136,1231],[.144,1950],[.152,1616],[.160,2748],[.168,1439],[.176,2529],[.185,2163],[.193,2825],[.201,2663],[.209,2545],[.217,3366],[.225,2786],[.233,2449],[.240,2631],[.248,3192],[.256,3804],[.264,3640],[.273,3776],[.281,3497],[.289,3884],[.297,4087],[.305,3755],[.313,4592],[.321,4385],[.329,3542],[.337,4356],[.345,4356],[.353,4333],[.361,3830],[.369,4808],[.377,4218],[.385,5063],[.393,4742],[.401,4111],[.409,4808],[.417,4592],[.425,5190],[.433,4842],[.441,4900],[.449,4933],[.457,5190],[.466,5297],[.474,4477],[.482,4532],[.490,5096],[.498,5690]];

const swiftOmega = 0.3;
const swiftN = [845,880,905,940,960,1000,1015,1060,1090,1110,1150,1170,1200,1240,1260,1290,1310,1350,1400,1430,1480,1520,1580,1640,1700,1790,1880,2010];

// ---------- layout / style ----------
const FONT = 'DejaVu Sans';
const colors = ['#1f77b4','#ff7f0e','#2ca02c','#d62728','#9467bd','#8c564b'];
const panelData = [astrid.concat(astridMore), simba.concat(simbaMore), tng.concat(tngMore),
  sb28.concat(sb28More), magneticum, swiftN.map(n => [swiftOmega, n])];
const colLeft = [93, 500, 907];
const rowTop = [5, 302];
const rowH = [297, 298];
const panelW = 407;
const yMin = 22.3, yMax = 7470;
const legendPos = [
  {right: 836, top: 219}, {left: 511, top: 219}, {left: 918, top: 219},
  {right: 838, top: 517}, {left: 511, top: 517}, {left: 918, top: 517}
];

const grid = [], xAxis = [], yAxis = [], series = [], legend = [];
for (let i = 0; i < 6; i++) {
  const row = i < 3 ? 0 : 1, col = i % 3;
  grid.push({left: colLeft[col], top: rowTop[row], width: panelW, height: rowH[row],
    show: true, borderColor: '#000', borderWidth: 1.1, backgroundColor: 'transparent',
    containLabel: false, outerBoundsMode: 'none'});
  xAxis.push({type: 'value', gridIndex: i, min: 0.08, max: 0.52,
    axisLine: {show: false}, splitLine: {show: false},
    axisTick: {show: row === 1, inside: false, length: 6, customValues: xTicks, lineStyle: {color: '#000', width: 1.1}},
    axisLabel: {show: row === 1, customValues: xTicks, formatter: v => v.toFixed(1), fontSize: 21, fontFamily: FONT, color: '#000', margin: 14},
    name: row === 1 ? '{o|Ω}{m|m}' : '', nameLocation: 'middle', nameGap: 51,
    nameTextStyle: {rich: {
      o: {fontSize: 21, fontFamily: FONT, color: '#000', lineHeight: 23, verticalAlign: 'top'},
      m: {fontSize: 15, fontFamily: FONT, fontStyle: 'italic', color: '#000', lineHeight: 15, verticalAlign: 'bottom'}
    }}
  });
}
for (let i = 0; i < 6; i++) {
  const col = i % 3;
  yAxis.push({type: 'log', gridIndex: i, min: yMin, max: yMax, position: 'left',
    axisLine: {show: false}, splitLine: {show: false},
    axisTick: {show: true, inside: false, length: 6, customValues: yMajor, lineStyle: {color: '#000', width: 1.1}},
    axisLabel: {show: col === 0, customValues: yMajor, margin: 12,
      formatter: v => '{b|10}{s|' + Math.round(Math.log10(v)) + '}',
      rich: {
        b: {fontSize: 21, fontFamily: FONT, color: '#000', lineHeight: 25, verticalAlign: 'bottom'},
        s: {fontSize: 15, fontFamily: FONT, color: '#000', lineHeight: 17, verticalAlign: 'top'}
      }},
    name: col === 0 ? 'Number of galaxies' : '', nameLocation: 'middle', nameGap: 64,
    nameTextStyle: {fontSize: 21, fontFamily: FONT, color: '#000'}
  });
}
for (let i = 0; i < 6; i++) {
  yAxis.push({type: 'log', gridIndex: i, min: yMin, max: yMax, position: 'left',
    axisLine: {show: false}, splitLine: {show: false},
    axisTick: {show: true, inside: false, length: 3.5, customValues: yMinor, lineStyle: {color: '#000', width: 0.9}},
    axisLabel: {show: false}
  });
}
for (let i = 0; i < 6; i++) {
  series.push({type: 'scatter', name: simNames[i], xAxisIndex: i, yAxisIndex: i,
    data: panelData[i], symbol: 'circle', symbolSize: 5.5, silent: true, z: 2,
    itemStyle: {color: colors[i], opacity: 1, borderWidth: 0}});
  series.push({type: 'line', name: 'mean' + i, xAxisIndex: i, yAxisIndex: i,
    data: [[xTicks[0], meanN[i]], [xTicks[xTicks.length - 1], meanN[i]]],
    symbol: 'none', silent: true, z: 3,
    itemStyle: {color: '#000'},
    lineStyle: {color: '#000', width: 3, type: [11.6, 5], cap: 'butt'}});
  legend.push(Object.assign({
    data: [{name: simNames[i], icon: 'circle'}, {name: 'mean' + i, itemStyle: {opacity: 0}}],
    orient: 'vertical', itemWidth: 44, itemHeight: 5, itemGap: 8,
    padding: [6, 10, 8, 9], selectedMode: false,
    backgroundColor: 'rgba(255,255,255,0.8)', borderColor: '#d3d3d3', borderWidth: 1, borderRadius: 4,
    formatter: name => name.startsWith('mean') ? '⟨{i|N}⟩ = ' + meanN[i] : name,
    textStyle: {fontSize: 21, fontFamily: FONT, color: '#000', lineHeight: 25, padding: [0, 0, 0, 13],
      rich: {i: {fontSize: 21, fontFamily: FONT, fontStyle: 'italic', color: '#000', lineHeight: 25}}},
    z: 10
  }, legendPos[i]));
}

const chart = echarts.init(document.getElementById('c'), null, {renderer: 'canvas'});
chart.setOption({animation: false, backgroundColor: '#fff', grid, xAxis, yAxis, series, legend});
</script>
</body></html>
